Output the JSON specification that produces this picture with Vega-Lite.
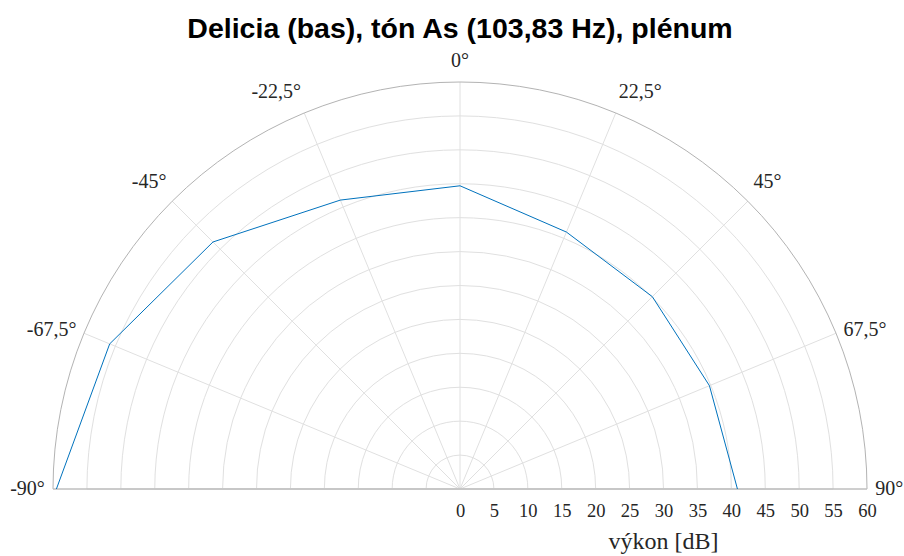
{
  "$schema": "https://vega.github.io/schema/vega-lite/v6.json",
  "width": 814,
  "height": 407,
  "autosize": {"type": "none"},
  "padding": {"left": 53, "top": 82, "right": 37, "bottom": 67},
  "background": "white",
  "config": {"view": {"stroke": null}},
  "title": {
    "text": "Delicia (bas), tón As (103,83 Hz), plénum",
    "font": "Liberation Sans",
    "fontWeight": "bold",
    "fontSize": 28.5,
    "color": "black",
    "frame": "group",
    "anchor": "middle",
    "offset": 7
  },
  "datasets": {
    "rings": [{"r": 5}, {"r": 10}, {"r": 15}, {"r": 20}, {"r": 25}, {"r": 30}, {"r": 35}, {"r": 40}, {"r": 45}, {"r": 50}, {"r": 55}],
    "spokes": [{"angle": -67.5}, {"angle": -45}, {"angle": -22.5}, {"angle": 0}, {"angle": 22.5}, {"angle": 45}, {"angle": 67.5}],
    "power": [
      {"angle": -90, "power": 59.5},
      {"angle": -67.5, "power": 55.9},
      {"angle": -45, "power": 51.5},
      {"angle": -22.5, "power": 46.1},
      {"angle": 0, "power": 44.7},
      {"angle": 22.5, "power": 41.0},
      {"angle": 45, "power": 40.1},
      {"angle": 67.5, "power": 39.8},
      {"angle": 90, "power": 40.9}
    ],
    "labels": [
      {"angle": -90, "label": "-90°"},
      {"angle": -67.5, "label": "-67,5°"},
      {"angle": -45, "label": "-45°"},
      {"angle": -22.5, "label": "-22,5°"},
      {"angle": 0, "label": "0°"},
      {"angle": 22.5, "label": "22,5°"},
      {"angle": 45, "label": "45°"},
      {"angle": 67.5, "label": "67,5°"},
      {"angle": 90, "label": "90°"}
    ]
  },
  "layer": [
    {
      "data": {"name": "rings"},
      "mark": {"type": "arc", "theta": -1.5707963, "theta2": 1.5707963, "fill": null, "stroke": "#e0e0e0", "strokeWidth": 1},
      "encoding": {
        "x": {
          "datum": 0, "type": "quantitative",
          "scale": {"domain": [-60, 60], "nice": false, "zero": false},
          "title": "výkon [dB]",
          "axis": {
            "values": [0, 5, 10, 15, 20, 25, 30, 35, 40, 45, 50, 55, 60],
            "domain": false, "ticks": false, "grid": false,
            "labelFlush": false,
            "labelFont": "Liberation Serif", "labelFontSize": 18.5, "labelColor": "#262626", "labelPadding": 12,
            "titleFont": "Liberation Serif", "titleFontSize": 24, "titleFontWeight": "normal", "titleColor": "#262626",
            "titleX": 610, "titlePadding": 10
          }
        },
        "y": {"datum": 0, "type": "quantitative", "scale": {"domain": [0, 60], "nice": false, "zero": false}, "axis": null},
        "radius": {"field": "r", "type": "quantitative", "stack": null, "scale": {"type": "linear", "domain": [0, 60], "range": [0, 407], "zero": true}}
      }
    },
    {
      "data": {"name": "spokes"},
      "transform": [
        {"calculate": "60*sin(datum.angle*PI/180)", "as": "sx"},
        {"calculate": "60*cos(datum.angle*PI/180)", "as": "sy"}
      ],
      "mark": {"type": "rule", "stroke": "#e0e0e0", "strokeWidth": 1},
      "encoding": {
        "x": {"field": "sx", "type": "quantitative", "title": "výkon [dB]"},
        "y": {"field": "sy", "type": "quantitative", "axis": null},
        "x2": {"datum": 0},
        "y2": {"datum": 0}
      }
    },
    {
      "data": {"values": [{"r": 60}]},
      "mark": {"type": "arc", "theta": -1.5707963, "theta2": 1.5707963, "fill": null, "stroke": "#b3b3b3", "strokeWidth": 1},
      "encoding": {
        "x": {"datum": 0, "type": "quantitative", "title": "výkon [dB]"},
        "y": {"datum": 0, "type": "quantitative", "axis": null},
        "radius": {"field": "r", "type": "quantitative", "stack": null, "scale": {"type": "linear", "domain": [0, 60], "range": [0, 407], "zero": true}}
      }
    },
    {
      "data": {"values": [{"from": -60, "to": 60}]},
      "mark": {"type": "rule", "stroke": "#c4c4c4", "strokeWidth": 1},
      "encoding": {
        "x": {"field": "from", "type": "quantitative", "title": "výkon [dB]"},
        "x2": {"field": "to"},
        "y": {"datum": 0, "type": "quantitative", "axis": null}
      }
    },
    {
      "data": {"name": "power"},
      "transform": [
        {"calculate": "datum.power*sin(datum.angle*PI/180)", "as": "px"},
        {"calculate": "datum.power*cos(datum.angle*PI/180)", "as": "py"}
      ],
      "mark": {"type": "line", "color": "#0072BD", "strokeWidth": 1},
      "encoding": {
        "x": {"field": "px", "type": "quantitative", "title": "výkon [dB]"},
        "y": {"field": "py", "type": "quantitative", "axis": null},
        "order": {"field": "angle", "type": "quantitative"}
      }
    },
    {
      "data": {"name": "labels"},
      "transform": [
        {"filter": "datum.angle == 0"},
        {"calculate": "61.2*sin(datum.angle*PI/180)", "as": "lx"},
        {"calculate": "61.2*cos(datum.angle*PI/180)", "as": "ly"}
      ],
      "mark": {"type": "text", "font": "Liberation Serif", "fontSize": 20, "color": "#262626", "align": "center", "baseline": "bottom", "dy": -3},
      "encoding": {
        "x": {"field": "lx", "type": "quantitative", "title": "výkon [dB]"},
        "y": {"field": "ly", "type": "quantitative", "axis": null},
        "text": {"field": "label"}
      }
    },
    {
      "data": {"name": "labels"},
      "transform": [
        {"filter": "datum.angle > 0 && datum.angle < 60"},
        {"calculate": "61.2*sin(datum.angle*PI/180)", "as": "lx"},
        {"calculate": "61.2*cos(datum.angle*PI/180)", "as": "ly"}
      ],
      "mark": {"type": "text", "font": "Liberation Serif", "fontSize": 20, "color": "#262626", "align": "left", "baseline": "bottom", "dy": -3},
      "encoding": {
        "x": {"field": "lx", "type": "quantitative", "title": "výkon [dB]"},
        "y": {"field": "ly", "type": "quantitative", "axis": null},
        "text": {"field": "label"}
      }
    },
    {
      "data": {"name": "labels"},
      "transform": [
        {"filter": "datum.angle < 0 && datum.angle > -60"},
        {"calculate": "61.2*sin(datum.angle*PI/180)", "as": "lx"},
        {"calculate": "61.2*cos(datum.angle*PI/180)", "as": "ly"}
      ],
      "mark": {"type": "text", "font": "Liberation Serif", "fontSize": 20, "color": "#262626", "align": "right", "baseline": "bottom", "dy": -3},
      "encoding": {
        "x": {"field": "lx", "type": "quantitative", "title": "výkon [dB]"},
        "y": {"field": "ly", "type": "quantitative", "axis": null},
        "text": {"field": "label"}
      }
    },
    {
      "data": {"name": "labels"},
      "transform": [
        {"filter": "datum.angle > 60"},
        {"calculate": "61.2*sin(datum.angle*PI/180)", "as": "lx"},
        {"calculate": "61.2*cos(datum.angle*PI/180)", "as": "ly"}
      ],
      "mark": {"type": "text", "font": "Liberation Serif", "fontSize": 20, "color": "#262626", "align": "left", "baseline": "middle"},
      "encoding": {
        "x": {"field": "lx", "type": "quantitative", "title": "výkon [dB]"},
        "y": {"field": "ly", "type": "quantitative", "axis": null},
        "text": {"field": "label"}
      }
    },
    {
      "data": {"name": "labels"},
      "transform": [
        {"filter": "datum.angle < -60"},
        {"calculate": "61.2*sin(datum.angle*PI/180)", "as": "lx"},
        {"calculate": "61.2*cos(datum.angle*PI/180)", "as": "ly"}
      ],
      "mark": {"type": "text", "font": "Liberation Serif", "fontSize": 20, "color": "#262626", "align": "right", "baseline": "middle"},
      "encoding": {
        "x": {"field": "lx", "type": "quantitative", "title": "výkon [dB]"},
        "y": {"field": "ly", "type": "quantitative", "axis": null},
        "text": {"field": "label"}
      }
    }
  ]
}
